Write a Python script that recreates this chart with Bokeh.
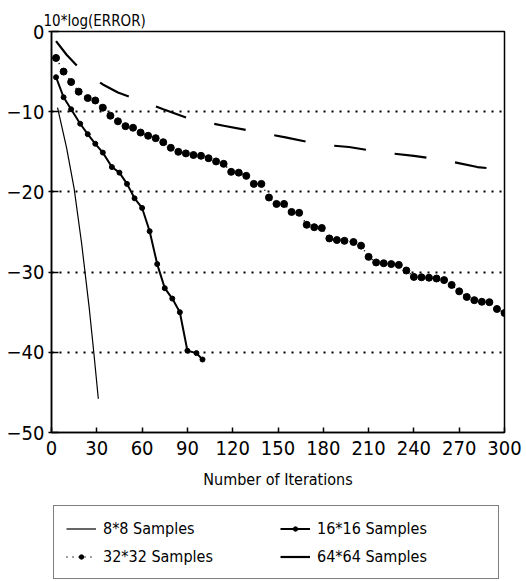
from bokeh.plotting import figure
from bokeh.models import (FixedTicker, Legend, LegendItem, Range1d)
from bokeh.layouts import column
from bokeh.embed import file_html
from bokeh.resources import INLINE

FONT = "DejaVu Sans Condensed, Liberation Sans Narrow, Roboto, sans-serif"

# ---- data ----
x_ticks = [0, 30, 60, 90, 120, 150, 180, 210, 240, 270, 300]
y_ticks = [0, -10, -20, -30, -40, -50]
y_tick_labels = ["0", "\u221210", "\u221220", "\u221230", "\u221240", "\u221250"]

x_8 = [4, 10, 15, 20, 25, 28, 31]
y_8 = [-9.5, -14.5, -19.6, -26.5, -34.5, -40.0, -45.8]

x_16 = [3, 8, 13, 19, 24, 29, 34, 40, 45, 50, 55, 60, 65, 70, 75, 80, 85, 90, 96, 100]
y_16 = [-5.7, -8.2, -9.7, -11.5, -12.8, -14.0, -15.1, -16.9, -17.6, -19.0,
        -20.8, -22.0, -24.9, -29.0, -32.0, -33.3, -35.0, -39.8, -40.1, -40.9]

x_32 = [3, 8, 13, 18, 24, 29, 34, 39, 44, 49,
        54, 59, 64, 69, 74, 79, 84, 89, 94, 99,
        104, 109, 114, 119, 124, 129, 134, 139, 144, 149,
        154, 159, 164, 169, 174, 179, 184, 189, 194, 200,
        205, 210, 215, 220, 225, 230, 235, 240, 245, 250,
        255, 260, 265, 270, 275, 280, 285, 290, 295, 300]
y_32 = [-3.3, -5.0, -6.3, -7.5, -8.3, -8.6, -9.5, -10.5, -11.2, -11.8,
        -12.0, -12.6, -13.0, -13.3, -13.8, -14.5, -15.0, -15.2, -15.4, -15.5,
        -15.8, -16.2, -16.5, -17.5, -17.6, -18.0, -19.0, -19.0, -20.7, -21.5,
        -21.5, -22.5, -22.6, -24.1, -24.4, -24.5, -25.8, -26.0, -26.1, -26.25,
        -26.7, -28.1, -28.8, -28.9, -29.0, -29.1, -29.8, -30.6, -30.65, -30.7,
        -30.8, -31.0, -31.6, -32.4, -33.1, -33.5, -33.7, -33.75, -34.6, -35.1]

x_64 = [3, 10, 18, 34, 44, 54, 74, 93, 114, 135, 155, 178, 197, 220, 240, 262, 282, 292, 297, 300]
y_64 = [-1.2, -2.9, -4.5, -6.6, -7.6, -8.3, -9.7, -11.0, -11.75, -12.5,
        -13.2, -14.1, -14.4, -15.1, -15.5, -16.1, -16.9, -17.1, -17.5, -18.2]

labels = ["8*8 Samples", "16*16 Samples", "32*32 Samples", "64*64 Samples"]
y_title = "10*log(ERROR)"
x_title = "Number of Iterations"

STY8 = dict(line_color="black", line_width=1.2)
STY16L = dict(line_color="black", line_width=2)
STY16M = dict(size=5, fill_color="black", line_color="black")
STY32L = dict(line_color="black", line_width=1.5, line_dash="1 5")
STY32M = dict(size=7, fill_color="black", line_color="black")
STY64 = dict(line_color="black", line_width=2.2, line_dash="32 29")

p = figure(width=526, height=500, output_backend="svg", toolbar_location=None,
           x_range=Range1d(0, 300), y_range=Range1d(-50, 0),
           min_border_left=51, min_border_right=22, min_border_top=31, min_border_bottom=68,
           title=y_title)
p.background_fill_color = "white"
p.border_fill_color = "white"
p.outline_line_color = "black"
p.outline_line_width = 1.5

p.title.align = "left"
p.title.offset = -8
p.title.standoff = 3
p.title.text_font = FONT
p.title.text_font_size = "15px"
p.title.text_font_style = "normal"
p.title.text_color = "black"

p.xgrid.visible = False
p.ygrid.ticker = FixedTicker(ticks=[-10, -20, -30, -40])
p.ygrid.grid_line_color = "black"
p.ygrid.grid_line_width = 2
p.ygrid.grid_line_dash = "2 6"

p.xaxis.ticker = FixedTicker(ticks=x_ticks)
p.yaxis.ticker = FixedTicker(ticks=y_ticks)
p.yaxis.major_label_overrides = {t: l for t, l in zip(y_ticks, y_tick_labels)}
for ax in (p.xaxis[0], p.yaxis[0]):
    ax.axis_line_color = "black"
    ax.axis_line_width = 1.5
    ax.major_tick_line_color = "black"
    ax.major_tick_line_width = 1.5
    ax.minor_tick_line_color = None
    ax.major_label_text_font = FONT
    ax.major_label_text_font_size = "20px"
    ax.major_label_text_color = "black"
p.xaxis.major_tick_in = 5
p.xaxis.major_tick_out = 0
p.xaxis.major_label_standoff = 8
p.yaxis.major_tick_in = 7
p.yaxis.major_tick_out = 3
p.yaxis.major_label_standoff = 4
p.xaxis.axis_label = x_title
p.xaxis.axis_label_text_font = FONT
p.xaxis.axis_label_text_font_size = "16px"
p.xaxis.axis_label_text_font_style = "normal"
p.xaxis.axis_label_text_color = "black"
p.xaxis.axis_label_standoff = 12

p.line(x_8, y_8, **STY8)
p.line(x_16, y_16, **STY16L)
p.scatter(x_16, y_16, **STY16M)
p.line(x_32, y_32, **STY32L)
p.scatter(x_32, y_32, **STY32M)
p.line(x_64, y_64, **STY64)

# ---- legend panel (separate figure below the chart; its ranges keep the
#      proxy glyphs out of view, only the legend is visible) ----
q = figure(width=526, height=81, output_backend="svg", toolbar_location=None,
           x_range=Range1d(1000, 1001), y_range=Range1d(1000, 1001),
           x_axis_location=None, y_axis_location=None,
           min_border_left=51, min_border_right=22, min_border_top=0, min_border_bottom=0)
q.outline_line_color = None
q.grid.visible = False
q.background_fill_color = "white"
q.border_fill_color = "white"
l8 = q.line(x_8, y_8, **STY8)
l16l = q.line(x_16, y_16, **STY16L)
l16m = q.scatter(x_16, y_16, **STY16M)
l32l = q.line(x_32, y_32, **STY32L)
l32m = q.scatter(x_32, y_32, **STY32M)
l64 = q.line(x_64, y_64, line_color="black", line_width=2.2)

legend = Legend(items=[
    LegendItem(label=labels[0], renderers=[l8]),
    LegendItem(label=labels[1], renderers=[l16l, l16m]),
    LegendItem(label=labels[2], renderers=[l32l, l32m]),
    LegendItem(label=labels[3], renderers=[l64]),
], location=(2, 2), orientation="horizontal", ncols=2,
    border_line_color="black", border_line_width=1.5,
    label_text_font=FONT, label_text_font_size="16px", label_text_color="black",
    glyph_width=30, glyph_height=11, label_height=20, label_standoff=7,
    label_width=169, spacing=8, padding=12, margin=0,
    background_fill_alpha=1.0)
q.add_layout(legend, "center")

layout = column(p, q, spacing=0)
open("out.html", "w").write(file_html(layout, INLINE))
